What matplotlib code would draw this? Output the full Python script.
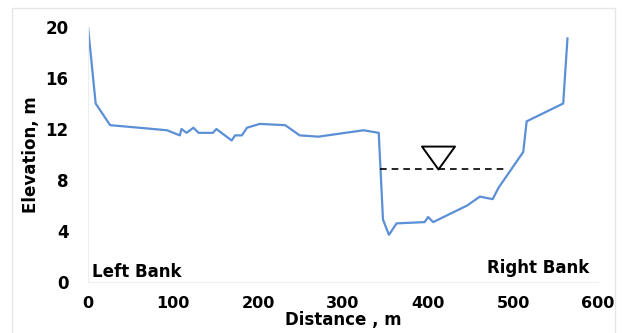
import matplotlib
matplotlib.use("agg")
import matplotlib.pyplot as plt
from matplotlib.path import Path
from matplotlib.patches import Rectangle

# cross section survey points (distance m, elevation m)
distance = [0, 9, 26, 60, 93, 108, 110, 116, 124, 130, 147, 151, 169, 173, 181, 187,
            202, 232, 249, 271, 324, 342, 347, 354, 363, 396, 400, 406, 446, 461, 476,
            483, 512, 516, 559, 564]
elevation = [20, 14.0, 12.3, 12.1, 11.9, 11.5, 12.0, 11.7, 12.1, 11.7, 11.7, 12.0,
             11.1, 11.5, 11.5, 12.1, 12.4, 12.3, 11.5, 11.4, 11.9, 11.7, 4.9, 3.7, 4.6,
             4.7, 5.1, 4.7, 6.0, 6.7, 6.5, 7.4, 10.2, 12.6, 14.0, 19.1]

# water surface
water_x = [344, 494]
water_level = 8.9
water_mark_x = 412

plt.rcParams['font.family'] = 'DejaVu Sans'
plt.rcParams['font.weight'] = 'bold'

fig = plt.figure(figsize=(6.22, 3.33), dpi=100)
ax = fig.add_axes([0.1415, 0.153, 0.82, 0.766])

ax.plot(distance, elevation, color='#5b8fd6', lw=1.6)
ax.plot(water_x, [water_level, water_level], color='black', lw=1.2, ls=(0, (4, 3)))

# inverted triangle, apex sitting on the water surface
tri = Path([(0, 0), (-0.72, 1), (0.72, 1), (0, 0)],
           [Path.MOVETO, Path.LINETO, Path.LINETO, Path.CLOSEPOLY])
ax.plot([water_mark_x], [water_level], marker=tri, ms=33, mfc='white', mec='black',
        mew=1.4, ls='none')

ax.text(5, 0.8, 'Left Bank', fontsize=12, fontweight='bold', va='center', ha='left')
ax.text(590, 1.1, 'Right Bank', fontsize=12, fontweight='bold', va='center', ha='right')

ax.set_xlim(0, 600)
ax.set_ylim(0, 20)
ax.set_xticks([0, 100, 200, 300, 400, 500, 600])
ax.set_yticks([0, 4, 8, 12, 16, 20])
ax.tick_params(length=0, labelsize=12)
ax.tick_params(axis='x', pad=10, labelsize=11.5)
ax.tick_params(axis='y', pad=14)
for lab in ax.get_xticklabels() + ax.get_yticklabels():
    lab.set_fontweight('bold')

ax.set_xlabel('Distance , m', fontsize=12, fontweight='bold', labelpad=0)
ax.set_ylabel('Elevation, m', fontsize=12, fontweight='bold', labelpad=4)

for side in ['top', 'right']:
    ax.spines[side].set_visible(False)
for side in ['left', 'bottom']:
    ax.spines[side].set_color('#eeeeee')

# light frame around the whole chart
fig.patches.append(Rectangle((12 / 622, -0.05), 603 / 622, 1.05 - 8 / 333,
                             transform=fig.transFigure, fill=False,
                             ec='#e6e6e6', lw=1))

fig.savefig('out.png', dpi=100)
